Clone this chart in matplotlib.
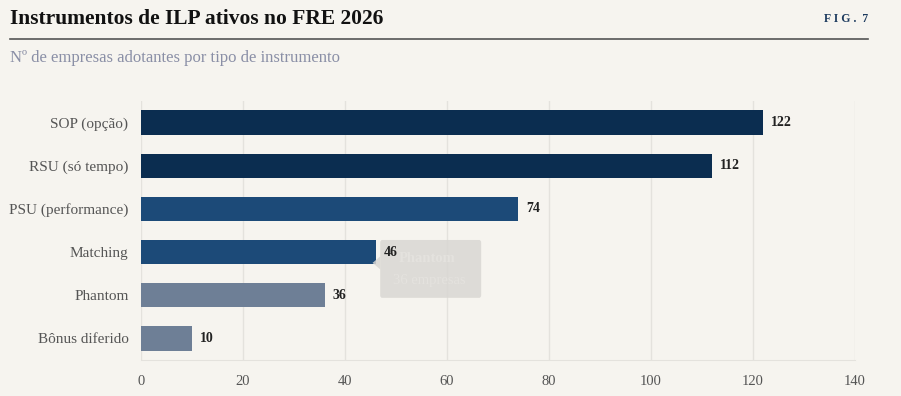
import matplotlib.pyplot as plt
from matplotlib.patches import FancyBboxPatch, Polygon

# data
categories = ['SOP (opção)', 'RSU (só tempo)', 'PSU (performance)',
              'Matching', 'Phantom', 'Bônus diferido']
values = [122, 112, 74, 46, 36, 10]
colors = ['#0b2d50', '#0b2d50', '#1c4a78', '#1c4a78', '#6e7f96', '#6e7f96']
x_ticks = [0, 20, 40, 60, 80, 100, 120, 140]

BG = '#f6f4ef'
SERIF = ['Liberation Serif', 'DejaVu Serif']

fig = plt.figure(figsize=(9.01, 3.96), dpi=100, facecolor=BG)
ax = fig.add_axes([141 / 901, 1 - 360 / 396, 714 / 901, 259 / 396])
ax.set_facecolor(BG)

y = list(range(len(categories)))
bars = ax.barh(y, values, height=0.56, color=colors, zorder=3)

for yi, v in zip(y, values):
    ax.text(v + 1.6, yi, str(v), va='center', ha='left', fontsize=10,
            fontweight='bold', color='#222222', family=SERIF, zorder=6)

ax.set_xlim(0, 140)
ax.set_ylim(len(categories) - 0.5, -0.5)
ax.set_xticks(x_ticks)
ax.set_yticks(y)
ax.set_yticklabels(categories)
ax.grid(axis='x', color='#e4e2dd', linewidth=1, zorder=0)
ax.tick_params(length=0, colors='#555555')
ax.tick_params(axis='y', pad=9, labelsize=11)
ax.tick_params(axis='x', pad=11, labelsize=10.5)
for lbl in ax.get_xticklabels() + ax.get_yticklabels():
    lbl.set_family(SERIF)
for s in ['top', 'right', 'left']:
    ax.spines[s].set_visible(False)
ax.spines['bottom'].set_color('#e4e2dd')

# faded tooltip over Phantom
tip = FancyBboxPatch((46.9, 2.72), 19.8, 1.34,
                     boxstyle='round,pad=0,rounding_size=0.4',
                     facecolor='#d9d7d3', edgecolor='none', alpha=0.85,
                     zorder=4, mutation_aspect=0.15)
ax.add_patch(tip)
ax.add_patch(Polygon([[46.9, 3.1], [45.4, 3.25], [46.9, 3.4]], closed=True,
                     facecolor='#d9d7d3', edgecolor='none', alpha=0.85,
                     zorder=4))
ax.text(50.6, 3.15, 'Phantom', fontsize=10.5, fontweight='bold',
        color='#e4e2de', family=SERIF, va='center', zorder=5)
ax.text(49.5, 3.66, '36 empresas', fontsize=10.5, color='#e4e2de',
        family=SERIF, va='center', zorder=5)

# header
fig.text(10 / 901, 1 - 19 / 396, 'Instrumentos de ILP ativos no FRE 2026',
         fontsize=15.5, fontweight='bold', color='#111111', family=SERIF,
         va='center', ha='left')
fig.text(868 / 901, 1 - 19 / 396, 'F I G .  7', fontsize=8.5,
         fontweight='bold', color='#1c3a5e', family=SERIF,
         va='center', ha='right')
fig.add_artist(plt.Line2D([10 / 901, 868 / 901], [1 - 39 / 396, 1 - 39 / 396],
                          color='#555555', linewidth=1.2))
fig.text(10 / 901, 1 - 58 / 396, 'Nº de empresas adotantes por tipo de instrumento',
         fontsize=12, color='#8a8fa6', family=SERIF, va='center', ha='left')

fig.savefig('out.png', dpi=100, facecolor=BG)
